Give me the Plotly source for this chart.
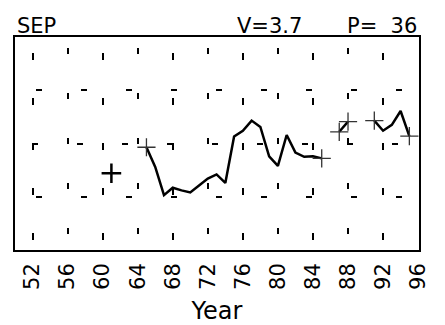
import plotly.graph_objects as go

# September series, GrADS-style panel
years = list(range(61, 96))
values = [1.44, None, None, None, 1.93, 1.56, 1.03, 1.17, 1.12, 1.08,
          1.21, 1.34, 1.42, 1.26, 2.13, 2.24, 2.43, 2.31, 1.76, 1.58,
          2.16, 1.83, 1.75, 1.76, 1.72, None, 2.22, 2.41, None, None,
          2.43, 2.24, 2.35, 2.61, 2.14]

tick_years = list(range(52, 97, 4))
tick_labels = [str(t) for t in tick_years]

month = "SEP"
stat_v = "V=3.7"
stat_p = "P=\u00a0\u00a036"

FONT = "DejaVu Sans"

# the page body keeps its default 8px margin, so the figure is a bit smaller
PAGE_PAD = 8


def segment_ends(xs, ys):
    # points next to a gap get a '+' marker, lone points a heavier one
    ends, lone = [], []
    for i, y in enumerate(ys):
        if y is None:
            continue
        prev_ok = i > 0 and ys[i - 1] is not None
        next_ok = i < len(ys) - 1 and ys[i + 1] is not None
        if not prev_ok and not next_ok:
            lone.append((xs[i], y))
        elif not prev_ok or not next_ok:
            ends.append((xs[i], y))
    return ends, lone


ends, lone = segment_ends(years, values)

fig = go.Figure()
fig.add_trace(go.Scatter(x=years, y=values, mode="lines", connectgaps=False,
                         line=dict(color="black", width=2.5), showlegend=False))
fig.add_trace(go.Scatter(x=[p[0] for p in ends], y=[p[1] for p in ends], mode="markers",
                         xaxis="x2",
                         marker=dict(symbol="cross-thin", size=13, color="black",
                                     line=dict(color="#333333", width=1.3)),
                         showlegend=False))
fig.add_trace(go.Scatter(x=[p[0] for p in lone], y=[p[1] for p in lone], mode="markers",
                         xaxis="x2",
                         marker=dict(symbol="cross-thin", size=14, color="black",
                                     line=dict(color="black", width=2.5)),
                         showlegend=False))

grid_a = [t for i, t in enumerate(tick_years) if i % 2 == 0]
grid_b = [t for i, t in enumerate(tick_years) if i % 2 == 1]

fig.update_layout(
    width=445 - PAGE_PAD, height=325 - PAGE_PAD,
    margin=dict(l=15 - PAGE_PAD, r=26, t=37 - PAGE_PAD, b=75),
    paper_bgcolor="white", plot_bgcolor="white",
    font=dict(family=FONT, color="black", size=21),
    xaxis=dict(range=[50, 96.1], tickmode="array", tickvals=grid_a,
               showticklabels=False, ticks="", automargin=False,
               showgrid=True, gridcolor="black", gridwidth=1.6,
               griddash="0px,16px,7px,22px",
               minor=dict(tickmode="array", tickvals=grid_b, ticks="",
                          showgrid=True, gridcolor="black", gridwidth=1.6,
                          griddash="0px,11px,6px,28px"),
               showline=True, linecolor="black", linewidth=2, mirror=True,
               zeroline=False),
    xaxis2=dict(overlaying="x", matches="x", anchor="y", side="bottom",
                tickmode="array", tickvals=tick_years, ticktext=tick_labels,
                tickangle=-90, ticks="", ticklabelstandoff=8,
                showgrid=False, showline=False,
                zeroline=False, tickfont=dict(size=21), automargin=False,
                title=dict(text="Year", font=dict(size=24), standoff=21)),
    yaxis=dict(range=[0, 4], tickmode="array", tickvals=[1, 3],
               showticklabels=False, ticks="", automargin=False,
               showgrid=True, gridcolor="black", gridwidth=1.6,
               griddash="0px,21px,6px,18px",
               minor=dict(tickmode="array", tickvals=[2], ticks="",
                          showgrid=True, gridcolor="black", gridwidth=1.6,
                          griddash="0px,17px,6px,22px"),
               showline=True, linecolor="black", linewidth=2, mirror=True,
               zeroline=False),
    annotations=[
        dict(text=month, xref="paper", yref="paper", x=0, y=1,
             xanchor="left", yanchor="bottom", showarrow=False, yshift=-3,
             font=dict(size=21)),
        dict(text=stat_v, xref="paper", yref="paper", x=0.545, y=1,
             xanchor="left", yanchor="bottom", showarrow=False, yshift=-3,
             font=dict(size=21)),
        dict(text=stat_p, xref="paper", yref="paper", x=1, y=1,
             xanchor="right", yanchor="bottom", showarrow=False, yshift=-3,
             font=dict(size=21)),
    ],
)

fig.write_html("out.html")
